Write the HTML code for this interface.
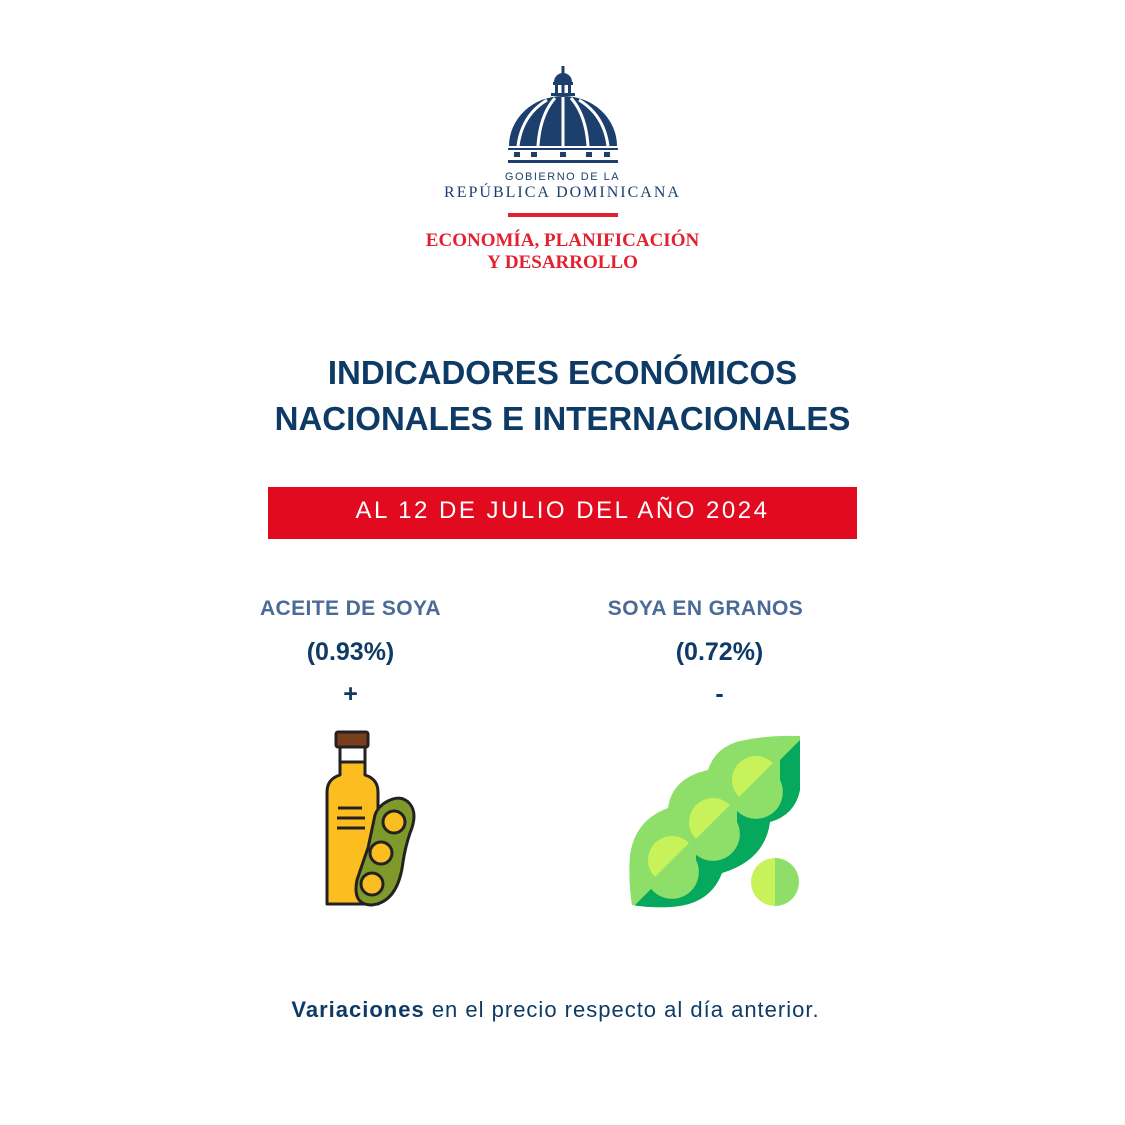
<!DOCTYPE html>
<html><head><meta charset="utf-8"><style>
body{margin:0;background:#fff;}
#c{position:relative;width:1125px;height:1125px;overflow:hidden;font-family:"Liberation Sans",sans-serif;}
.t{position:absolute;left:0;width:1125px;text-align:center;white-space:nowrap;}
</style></head><body><div id="c">
<svg width="1125" height="1125" style="position:absolute;left:0;top:0">
 <g fill="#1c3f6e">
  <rect x="561.5" y="66" width="3" height="8"/>
  <path d="M554 82 A9 9 0 0 1 572 82 Z"/>
  <rect x="553" y="82" width="20" height="3"/>
  <rect x="555" y="85" width="3" height="9"/><rect x="561.5" y="85" width="3" height="9"/><rect x="568" y="85" width="3" height="9"/>
  <rect x="551" y="93" width="24" height="3"/>
  <path d="M509 146 A54 50 0 0 1 617 146 Z"/>
  <rect x="508" y="148" width="110" height="2"/>
  <rect x="508" y="160" width="110" height="3"/>
  <rect x="514" y="152" width="6" height="5"/><rect x="531" y="152" width="6" height="5"/><rect x="560" y="152" width="6" height="5"/><rect x="586" y="152" width="6" height="5"/><rect x="604" y="152" width="6" height="5"/>
 </g>
 <g stroke="#fff" stroke-width="3" fill="none">
  <path d="M563 97 L563 146"/>
  <path d="M555 98 Q540 115 538 146"/><path d="M571 98 Q586 115 588 146"/>
  <path d="M547 100 Q522 115 518 146"/><path d="M579 100 Q604 115 608 146"/>
 </g>
 <rect x="508" y="213" width="110" height="4" fill="#e3202f"/>
 <rect x="268" y="487" width="589" height="52" fill="#e20a1e"/>
 <g stroke="#222" stroke-width="3" stroke-linejoin="round">
  <rect x="336" y="732" width="32" height="15" rx="2" fill="#7a3d1d"/>
  <path d="M340 747 H365 V775 Q378 779 378 792 V904 H327 V792 Q327 779 340 775 Z" fill="#fbbd1f"/>
  <path d="M340 747 H365 V762 H340 Z" fill="#fff"/>
  <path d="M338 808 H362 M337 818 H365 M337 828 H365" fill="none"/>
  <path d="M388 801 Q402 794 410 804 Q418 814 410 833 Q405 848 403 862 Q398 902 372 905 Q352 905 357 880 Q363 862 368 848 Q372 829 375 815 Q378 806 388 801 Z" fill="#7f9a2b"/>
  <circle cx="394" cy="822" r="11" fill="#fbbd1f"/>
  <circle cx="381" cy="853" r="11" fill="#fbbd1f"/>
  <circle cx="372" cy="884" r="11" fill="#fbbd1f"/>
 </g>
 <defs><clipPath id="pod"><path d="M632 905 Q628 880 630 855 Q635 820 668 808 Q672 778 708 770 Q716 745 745 740 Q770 735 798 736 L800 736 L800 790 Q795 815 770 822 Q765 860 722 873 Q710 905 670 907 Q650 908 632 905 Z"/></clipPath></defs>
 <g clip-path="url(#pod)">
  <rect x="620" y="730" width="190" height="190" fill="#8ede6a"/>
  <path d="M620 920 L810 730 L810 920 Z" fill="#05a85d"/>
  <circle cx="672" cy="860" r="24" fill="#c8f25a"/><path d="M696 836 L648 884 A24 24 0 0 0 696 860 Z" fill="#8ede6a"/>
  <circle cx="713" cy="822" r="24" fill="#c8f25a"/><path d="M737 798 L689 846 A24 24 0 0 0 737 822 Z" fill="#8ede6a"/>
  <circle cx="756" cy="780" r="24" fill="#c8f25a"/><path d="M780 756 L732 804 A24 24 0 0 0 780 780 Z" fill="#8ede6a"/>
 </g>
 <path d="M775 858 A24 24 0 0 0 775 906 Z" fill="#c8f25a"/>
 <path d="M775 858 A24 24 0 0 1 799 882 L799 882 A24 24 0 0 1 775 906 Z" fill="#8ede6a"/>
</svg>
<div class="t" style="top:171px;font-size:11px;letter-spacing:1.5px;color:#1c3f6e;">GOBIERNO DE LA</div>
<div class="t" style="top:184px;font-family:'Liberation Serif',serif;font-size:16px;letter-spacing:2px;color:#1c3f6e;">REPÚBLICA DOMINICANA</div>
<div class="t" style="top:230px;font-family:'Liberation Serif',serif;font-weight:bold;font-size:19px;color:#e3202f;line-height:22px;">ECONOMÍA, PLANIFICACIÓN<br>Y DESARROLLO</div>
<div class="t" style="top:350px;font-size:33px;font-weight:bold;color:#0e3a66;line-height:46px;">INDICADORES ECONÓMICOS<br>NACIONALES E INTERNACIONALES</div>
<div class="t" style="top:497px;font-size:24px;color:#fff;letter-spacing:2.5px;">AL 12 DE JULIO DEL AÑO 2024</div>
<div class="t" style="left:-212px;top:597px;font-size:21px;font-weight:bold;color:#4b6b97;letter-spacing:0.4px;">ACEITE DE SOYA</div>
<div class="t" style="left:143px;top:597px;font-size:21px;font-weight:bold;color:#4b6b97;letter-spacing:0.4px;">SOYA EN GRANOS</div>
<div class="t" style="left:-212px;top:638px;font-size:25px;font-weight:bold;color:#0e3a66;">(0.93%)</div>
<div class="t" style="left:157px;top:638px;font-size:25px;font-weight:bold;color:#0e3a66;">(0.72%)</div>
<div class="t" style="left:-212px;top:680px;font-size:25px;font-weight:bold;color:#0e3a66;">+</div>
<div class="t" style="left:157px;top:680px;font-size:25px;font-weight:bold;color:#0e3a66;">-</div>
<div class="t" style="left:-7px;top:997px;font-size:22px;letter-spacing:1px;color:#0e3a66;"><b>Variaciones</b> en el precio respecto al día anterior.</div>
</div></body></html>
